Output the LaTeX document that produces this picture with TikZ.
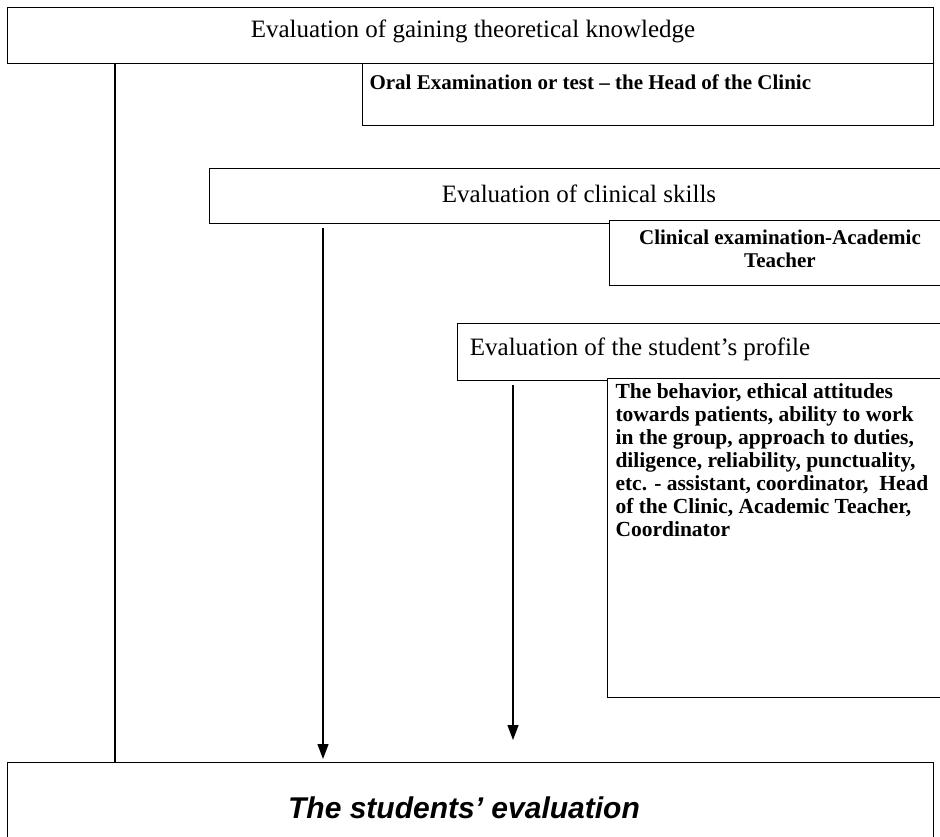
\documentclass[tikz,border=0pt]{standalone}
\usepackage{fontspec}
\setmainfont{Liberation Serif}
\newfontfamily\headfont{Liberation Sans}
\usetikzlibrary{arrows.meta}

\tikzset{
  box/.style={draw, fill=white, line width=1.3pt, rectangle, inner sep=0pt, anchor=north west},
  title/.style={font=\fontsize{25}{29}\selectfont},
  note/.style={font=\fontsize{21}{23}\selectfont\bfseries},
  flow/.style={line width=1.3pt, -{Triangle[width=11pt,length=15pt]}}
}

\begin{document}
\begin{tikzpicture}[x=1pt, y=-1pt]
            \useasboundingbox (0,0) rectangle (940,836);
            \clip (0,0) rectangle (940,836);

            % Boxes
            \node[box, minimum width=926pt, minimum height=56pt] (theory) at (7,7) {};
            \node[box, minimum width=571pt, minimum height=62pt] (oral) at (362,63) {};
            \node[box, minimum width=741pt, minimum height=55pt] (skills) at (209,168) {};
            \node[box, minimum width=341pt, minimum height=65pt] (exam) at (609,220) {};
            \node[box, minimum width=493pt, minimum height=57pt] (profile) at (457,323) {};
            \node[box, minimum width=343pt, minimum height=319pt] (detail) at (607,378) {};
            \node[box, minimum width=926pt, minimum height=100pt] (final) at (7,762) {};

            % Texts
            \node[title] (theorytxt) at (473,31) {Evaluation of gaining theoretical knowledge};
            \node[note, anchor=west] (oraltxt) at (366,82) {Oral Examination or test -- the Head of the Clinic};
            \node[title] (skillstxt) at (579,194) {Evaluation of clinical skills};
            \node[note, align=center] (examtxt) at (780,249) {Clinical examination-Academic\\Teacher};
            \node[title] (profiletxt) at (640,349) {Evaluation of the student’s profile};
            \node[note, font=\fontsize{21.5}{23}\selectfont\bfseries, align=left, anchor=north west] (detailtxt) at (612,380) {The behavior, ethical attitudes\\
              towards patients, ability to work\\
              in the group, approach to duties,\\
              diligence, reliability, punctuality,\\
              etc. - assistant, coordinator,~ Head\\
              of the Clinic, Academic Teacher,\\
              Coordinator};
            \node[font=\headfont\fontsize{30}{34}\selectfont\bfseries\itshape] (finaltxt) at (464,808) {The students’ evaluation};

            % Connectors
            \coordinate (b0) at (115,63);
            \coordinate (a1) at (323,228);
            \coordinate (a2) at (513,385);
            \coordinate (a2end) at (513,740);
            \draw[line width=1.3pt] (b0) -- (b0 |- final.north);
            \draw[flow, shorten >=3pt] (a1) -- (a1 |- final.north);
            \draw[flow] (a2) -- (a2end);
\end{tikzpicture}
\end{document}
